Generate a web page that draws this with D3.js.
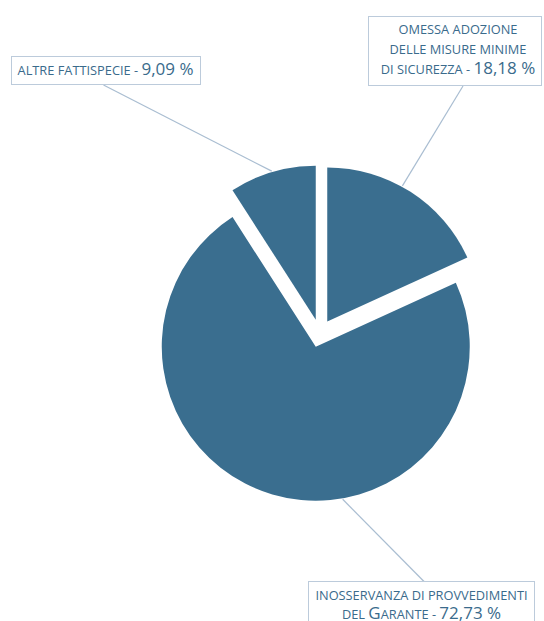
<!DOCTYPE html>
<html>
<head>
<meta charset="utf-8">
<script src="https://cdn.jsdelivr.net/npm/d3@7"></script>
<style>
  html, body { margin: 0; padding: 0; background: #fff; }
  svg { display: block; }
  text { font-family: "Open Sans", "Noto Sans", sans-serif; fill: #3a6b8c; }
</style>
</head>
<body>
<script>
var w = 544;
var h = 621;

// data, clockwise from 12 o'clock
var categories = ['omessa adozione delle misure minime di sicurezza',
                  'inosservanza di provvedimenti del Garante',
                  'altre fattispecie'];
var values = [18.18, 72.73, 9.09];
var valueLabels = ['18,18 %', '72,73 %', '9,09 %'];
// label text split into lines (small caps parts, then the value)
var labelLines = [
  [['OMESSA ADOZIONE'], ['DELLE MISURE MINIME'], ['DI SICUREZZA - ', 0]],
  [['INOSSERVANZA DI PROVVEDIMENTI'], ['DEL ', 'G', 'ARANTE - ', 0]],
  [['ALTRE FATTISPECIE - ', 0]]
];

// layout of the callout boxes
var boxes = [
  { x: 368.5, y: 16.5, w: 173, h: 69, tx: 458, ty: [34, 54, 73.5], lx: 463, ly: 86, angle: 29 },
  { x: 308.5, y: 581.5, w: 226, h: 60, tx: 421.5, ty: [600, 618.5], lx: 424, ly: 581.5, angle: 170 },
  { x: 11.5, y: 56.5, w: 189, h: 28, tx: 105.5, ty: [75], lx: 103.5, ly: 85, angle: 343.5 }
];

var cx = 319.7, cy = 333.2, r = 154, explode = 14;
var color = '#3a6e8f';

var svg = d3.select('body')
  .append('svg')
  .attr('width', w)
  .attr('height', h);

var pie = d3.pie().sort(null).value(function (d) { return d; });
var arc = d3.arc().innerRadius(0).outerRadius(r);
var arcs = pie(values);

arcs.forEach(function (d) {
  var mid = (d.startAngle + d.endAngle) / 2;
  d.ox = cx + explode * Math.sin(mid);
  d.oy = cy - explode * Math.cos(mid);
});

var g = svg.append('g');

// leader lines
g.selectAll('line.leader')
  .data(arcs)
  .enter()
  .append('line')
  .attr('class', 'leader')
  .attr('x1', function (d, i) { return d.ox + (r + 1) * Math.sin(boxes[i].angle * Math.PI / 180); })
  .attr('y1', function (d, i) { return d.oy - (r + 1) * Math.cos(boxes[i].angle * Math.PI / 180); })
  .attr('x2', function (d, i) { return boxes[i].lx; })
  .attr('y2', function (d, i) { return boxes[i].ly; })
  .attr('stroke', '#a9bdd1')
  .attr('stroke-width', 1.2);

g.selectAll('path.slice')
  .data(arcs)
  .enter()
  .append('path')
  .attr('class', 'slice')
  .attr('transform', function (d) { return 'translate(' + d.ox + ',' + d.oy + ')'; })
  .attr('d', arc)
  .attr('fill', color);

// callout boxes
var lab = svg.selectAll('g.label')
  .data(arcs)
  .enter()
  .append('g')
  .attr('class', 'label');

lab.append('rect')
  .attr('x', function (d, i) { return boxes[i].x; })
  .attr('y', function (d, i) { return boxes[i].y; })
  .attr('width', function (d, i) { return boxes[i].w; })
  .attr('height', function (d, i) { return boxes[i].h; })
  .attr('fill', '#fff')
  .attr('stroke', '#bccbdb')
  .attr('stroke-width', 1);

lab.each(function (d, i) {
  var b = boxes[i];
  var sel = d3.select(this);
  labelLines[i].forEach(function (line, j) {
    var t = sel.append('text')
      .attr('x', b.tx)
      .attr('y', b.ty[j])
      .attr('text-anchor', 'middle');
    line.forEach(function (part) {
      if (part === 0) {
        t.append('tspan').attr('font-size', 17).text(valueLabels[i]);
      } else if (part === 'G') {
        t.append('tspan').attr('font-size', 17).text(part);
      } else {
        t.append('tspan').attr('font-size', 12.8).text(part);
      }
    });
  });
});
</script>
</body>
</html>
